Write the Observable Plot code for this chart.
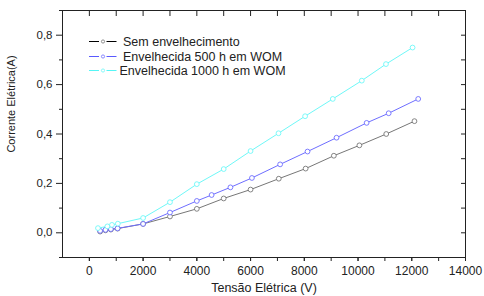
<!DOCTYPE html>
<html>
<head>
<meta charset="utf-8">
<script src="https://cdn.jsdelivr.net/npm/d3@7"></script>
<script src="https://cdn.jsdelivr.net/npm/@observablehq/plot@0.6"></script>
<style>
  body { margin: 0; background: #fff; }
  #chart { position: relative; width: 484px; height: 296px; font-family: "Liberation Sans", Arial, sans-serif; }
</style>
</head>
<body>
<div id="chart"></div>
<script>
// Data (x: Tensão Elétrica (V), y: Corrente Elétrica (A))
const seriesNames = ["Sem envelhecimento", "Envelhecida 500 h em WOM", "Envelhecida 1000 h em WOM"];
const seriesColors = ["#777777", "#6e6eff", "#6ff8f8"];
const legendLineColors = ["#000000", "#5a5aff", "#55f5f5"];

const semX = [400, 600, 800, 1050, 2000, 3000, 4000, 5000, 6000, 7050, 8050, 9100, 10050, 11050, 12100];
const semY = [0.005, 0.010, 0.013, 0.017, 0.036, 0.066, 0.097, 0.139, 0.175, 0.219, 0.260, 0.312, 0.354, 0.400, 0.452];

const e500X = [400, 600, 800, 1050, 2000, 3000, 4000, 4550, 5250, 6050, 7100, 8120, 9200, 10320, 11140, 12240];
const e500Y = [0.008, 0.012, 0.015, 0.018, 0.036, 0.082, 0.129, 0.153, 0.184, 0.222, 0.277, 0.329, 0.385, 0.445, 0.484, 0.542];

const e1000X = [320, 670, 840, 1060, 2000, 3000, 4000, 5000, 6000, 7040, 8030, 9060, 10140, 11040, 12030];
const e1000Y = [0.019, 0.026, 0.032, 0.037, 0.060, 0.124, 0.197, 0.258, 0.331, 0.403, 0.472, 0.542, 0.616, 0.683, 0.750];

const xMajorTicks = d3.range(0, 14001, 2000);
const xMinorTicks = d3.range(0, 14001, 1000);
const yMajorTicks = [0, 0.2, 0.4, 0.6, 0.8];
const yMinorTicks = [-0.1, 0.1, 0.3, 0.5, 0.7, 0.9];
const yAllTicks = d3.range(-0.1, 0.901, 0.1).map(v => +v.toFixed(1));

const xLabel = "Tensão Elétrica (V)";
const yLabel = "Corrente Elétrica(A)";

const data = [
  ...semX.map((x, i) => ({x, y: semY[i], s: seriesNames[0]})),
  ...e500X.map((x, i) => ({x, y: e500Y[i], s: seriesNames[1]})),
  ...e1000X.map((x, i) => ({x, y: e1000Y[i], s: seriesNames[2]}))
];

const comma = d => d.toFixed(1).replace(".", ",");
const none = () => "";

const plot = Plot.plot({
  width: 484,
  height: 296,
  marginLeft: 62,
  marginRight: 19,
  marginTop: 10,
  marginBottom: 39,
  style: {fontFamily: "'Liberation Sans', Arial, sans-serif", fontSize: "12px", color: "#222", background: "#fff"},
  x: {domain: [-1000, 14000]},
  y: {domain: [-0.1, 0.9]},
  color: {domain: seriesNames, range: seriesColors},
  marks: [
    Plot.line(data, {x: "x", y: "y", z: "s", stroke: "s", strokeWidth: 1}),
    Plot.dot(data, {x: "x", y: "y", stroke: "s", r: 2.4, fill: "white", strokeWidth: 0.9}),
    // bottom axis
    Plot.axisX(xMinorTicks, {anchor: "bottom", tickSize: 4, tickFormat: none, label: null, stroke: "#222"}),
    Plot.axisX(xMajorTicks, {anchor: "bottom", tickSize: 4, tickPadding: 5, tickFormat: d => String(d), label: null, stroke: "#222", fill: "#222", fontSize: 12}),
    // top axis (inward)
    Plot.axisX(xMinorTicks, {anchor: "top", tickSize: 5, dy: 5, tickFormat: none, label: null, stroke: "#222"}),
    // left axis
    Plot.axisY(yMinorTicks, {anchor: "left", tickSize: 3, tickFormat: none, label: null, stroke: "#222"}),
    Plot.axisY(yMajorTicks, {anchor: "left", tickSize: 6, tickPadding: 4, tickFormat: comma, label: null, stroke: "#222", fill: "#222", fontSize: 11.5}),
    // right axis (inward)
    Plot.axisY(yAllTicks, {anchor: "right", tickSize: 5, dx: -5, tickFormat: none, label: null, stroke: "#222"}),
    Plot.frame({stroke: "#222", strokeWidth: 1}),
    Plot.text([xLabel], {frameAnchor: "bottom", lineAnchor: "middle", textAnchor: "middle", dy: 30, fontSize: 12.5, fill: "#222"}),
    Plot.text([yLabel], {frameAnchor: "left", lineAnchor: "middle", textAnchor: "middle", dx: -51, dy: -30, rotate: -90, fontSize: 11, fill: "#222"})
  ]
});

document.getElementById("chart").appendChild(plot);

// Legend inside the plot (top-left), drawn into the SVG
const svg = d3.select(plot);
const leg = svg.append("g")
  .attr("font-family", "'Liberation Sans', Arial, sans-serif")
  .attr("font-size", 12.5)
  .attr("text-anchor", "start");
const rowY = [41.5, 56.5, 70.5];
const textX = [123, 123, 119.5];
seriesNames.forEach((name, i) => {
  const g = leg.append("g");
  g.append("line").attr("x1", 89).attr("x2", 99).attr("y1", rowY[i]).attr("y2", rowY[i]).attr("stroke", legendLineColors[i]).attr("stroke-width", 1);
  g.append("line").attr("x1", 106.5).attr("x2", 116.5).attr("y1", rowY[i]).attr("y2", rowY[i]).attr("stroke", legendLineColors[i]).attr("stroke-width", 1);
  g.append("circle").attr("cx", 103).attr("cy", rowY[i]).attr("r", 1.6).attr("fill", "white").attr("stroke", seriesColors[i]).attr("stroke-width", 0.8);
  g.append("text").attr("x", textX[i]).attr("y", rowY[i]).attr("dy", "0.35em").attr("text-anchor", "start").attr("fill", "#222").text(name);
});
</script>
</body>
</html>
